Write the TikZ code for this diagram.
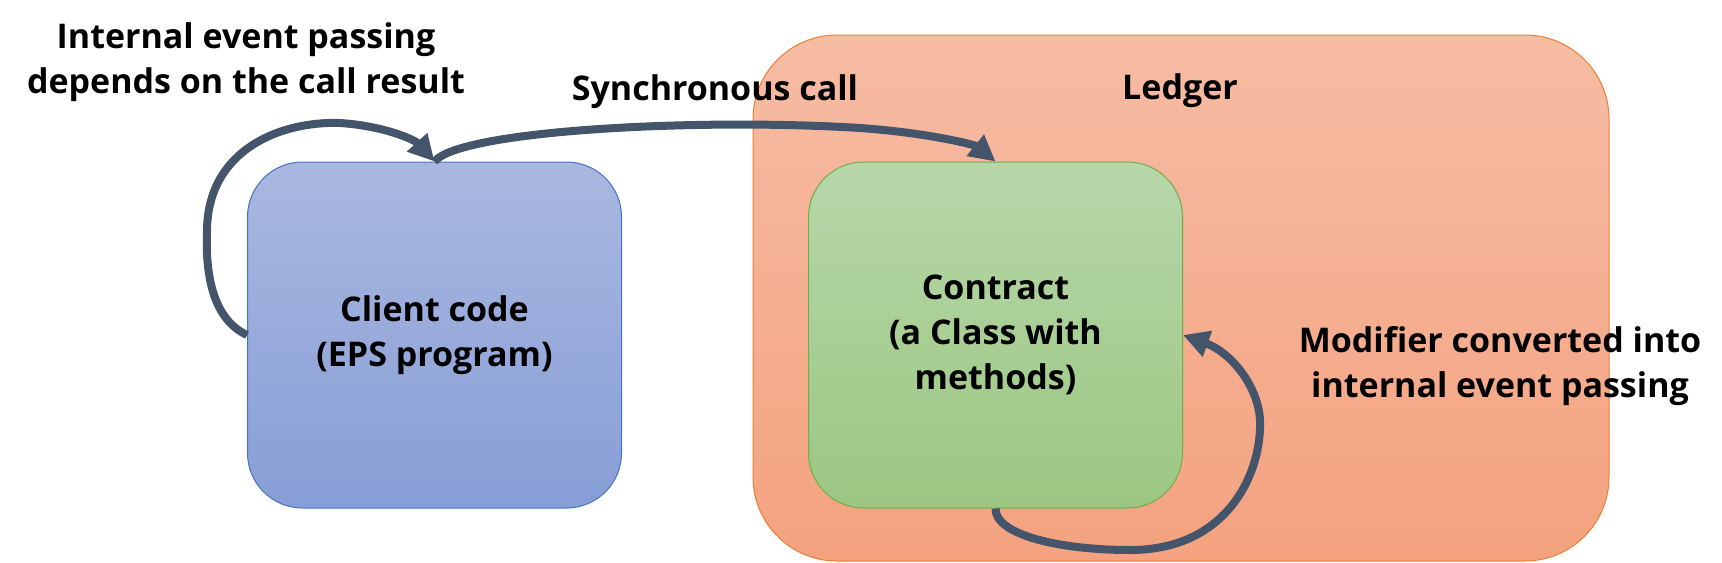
\documentclass[tikz,border=0pt]{standalone}
\usepackage{fontspec}
\setmainfont{Open Sans}
\usetikzlibrary{arrows.meta}
\definecolor{arrowc}{HTML}{44546A}
\definecolor{ledgerTop}{HTML}{F6BCA4}
\definecolor{ledgerBot}{HTML}{F4A27F}
\definecolor{ledgerLine}{HTML}{ED7D31}
\definecolor{clientTop}{HTML}{A9B8E0}
\definecolor{clientBot}{HTML}{879ED6}
\definecolor{clientLine}{HTML}{4472C4}
\definecolor{contractTop}{HTML}{B7D7A9}
\definecolor{contractBot}{HTML}{9BC782}
\definecolor{contractLine}{HTML}{70AD47}
\tikzset{
  lbl/.style={font=\fontsize{17}{22.5}\selectfont\bfseries, align=center, text=black, inner sep=0pt},
  box/.style={rounded corners=27.5pt, minimum width=187pt, minimum height=173pt, line width=0.5pt, inner sep=0pt},
  conn/.style={draw=arrowc, line width=4pt, -{Triangle[length=13pt,width=13pt]}},
}
\begin{document}
\begin{tikzpicture}[x=0.5pt,y=-0.5pt]
\useasboundingbox (0,0) rectangle (1722,562);
% Ledger
\node[rounded corners=42pt, minimum width=428pt, minimum height=263pt, draw=ledgerLine, line width=0.5pt,
  top color=ledgerTop, bottom color=ledgerBot] (ledger) at (1181,298) {};
\node[lbl] (ledgerlbl) at (1180,91) {Ledger};
% Boxes
\node[box, draw=clientLine, top color=clientTop, bottom color=clientBot, lbl] (client) at (434.5,335)
  {Client code\\(EPS program)};
\node[box, draw=contractLine, top color=contractTop, bottom color=contractBot, lbl] (contract) at (995.5,335)
  {Contract\\(a Class with\\methods)};
% Labels
\node[lbl] (intlbl) at (246,62) {Internal event passing\\depends on the call result};
\node[lbl] (synclbl) at (715,92) {Synchronous call};
\node[lbl] (modlbl) at (1500,366) {Modifier converted into\\internal event passing};
% Connectors
\draw[conn] (client.west) .. controls (215,320) and (205,280) .. (207,230)
  .. controls (208,150) and (280,121) .. (340,123)
  .. controls (385,126) and (415,140) .. (client.north);
\draw[conn] (client.north) .. controls (460,130) and (700,118) .. (860,128)
  .. controls (930,133) and (975,145) .. (contract.north);
\draw[conn] (contract.south) .. controls (995,535) and (1060,550) .. (1130,550)
  .. controls (1230,550) and (1262,470) .. (1260,420)
  .. controls (1258,385) and (1230,352) .. (contract.east);
\end{tikzpicture}
\end{document}
